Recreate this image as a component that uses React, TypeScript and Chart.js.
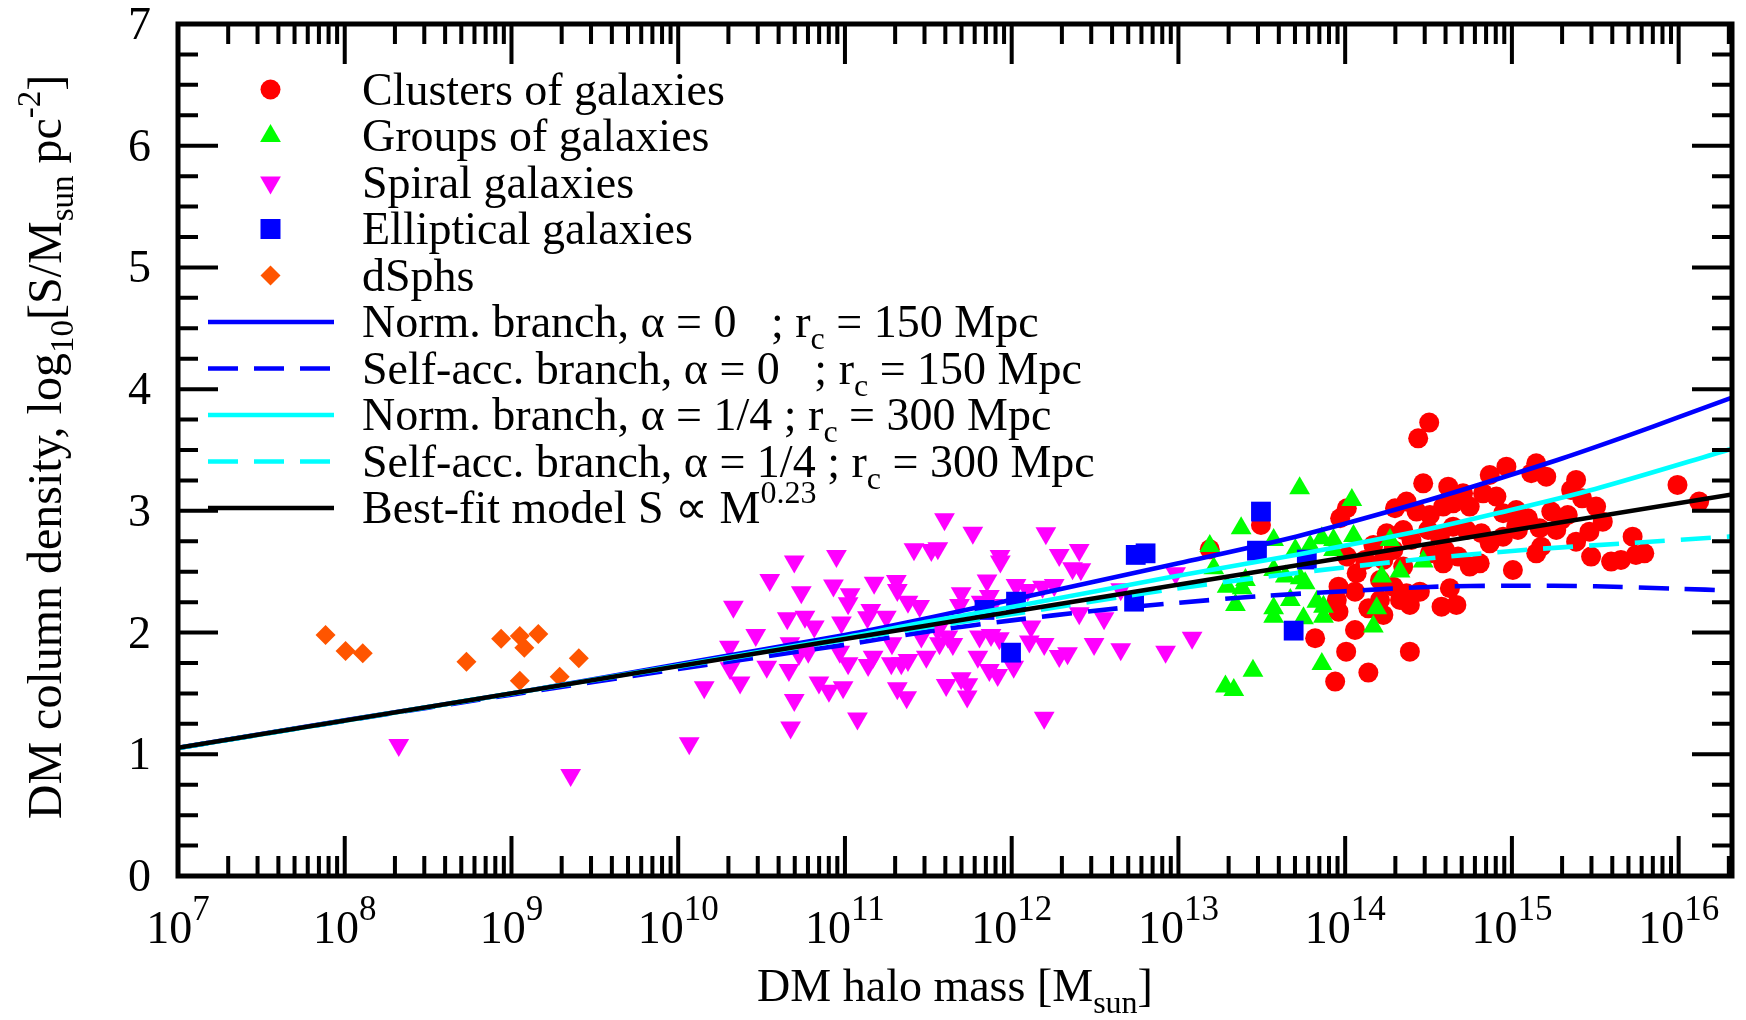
import React, { useEffect, useRef } from 'react';
import { Chart, registerables } from 'chart.js';

Chart.register(...registerables);

// ---------- axis ranges / ticks ----------
const X_MIN_EXP = 7;
const X_MAX_EXP = 16.32;
const Y_MIN = 0;
const Y_MAX = 7;
const xTickExponents = [7, 8, 9, 10, 11, 12, 13, 14, 15, 16];
const yTickLabels = ['0', '1', '2', '3', '4', '5', '6', '7'];

// ---------- data: [log10(M / Msun), log10(S / Msun pc^-2)] ----------
const clusters: [number, number][] = [
  [13.188, 2.684], [13.495, 2.884],
  [14.504, 3.725], [14.438, 3.596], [14.468, 3.226], [14.618, 3.199], [14.707, 3.144], [14.867, 3.295], [14.967, 3.363],
  [14.010, 3.021], [13.970, 2.939], [14.299, 3.021], [14.368, 3.076], [14.428, 2.994], [14.508, 2.966], [14.588, 3.035],
  [14.647, 3.062], [14.747, 3.035], [14.827, 3.144], [14.907, 3.117], [14.947, 2.980], [15.026, 3.007],
  [14.249, 2.816], [14.348, 2.843], [14.169, 2.720], [14.289, 2.679], [14.398, 2.761], [14.498, 2.843], [14.568, 2.788],
  [14.647, 2.870], [14.727, 2.843], [14.817, 2.816], [14.867, 2.733], [14.947, 2.788], [15.036, 2.843],
  [14.010, 2.624], [14.119, 2.597], [14.229, 2.597], [14.348, 2.542], [14.588, 2.569], [14.677, 2.624], [14.747, 2.542],
  [14.807, 2.569], [15.006, 2.514], [14.069, 2.487],
  [13.960, 2.377], [14.059, 2.336], [14.209, 2.432], [14.289, 2.377], [14.368, 2.323], [14.448, 2.336], [14.628, 2.364],
  [13.950, 2.268], [13.960, 2.172], [14.139, 2.199], [14.209, 2.268], [14.229, 2.145], [14.329, 2.268], [14.388, 2.227],
  [14.578, 2.213], [14.667, 2.227],
  [13.820, 1.953], [14.059, 2.021], [14.006, 1.843], [14.388, 1.843], [14.139, 1.671], [13.940, 1.597],
  [14.508, 2.651], [14.598, 2.679],
  [15.146, 3.391], [15.206, 3.281], [15.116, 3.309], [15.385, 3.254], [15.355, 3.172], [15.421, 3.103], [15.236, 2.994],
  [15.335, 2.966], [15.505, 3.035], [15.545, 2.911], [15.096, 2.939], [15.026, 2.871], [15.166, 2.857], [15.266, 2.843],
  [15.465, 2.829], [15.385, 2.747], [15.176, 2.706], [15.146, 2.651], [15.475, 2.624], [15.595, 2.583], [15.654, 2.597],
  [15.724, 2.788], [15.744, 2.638], [15.794, 2.651], [15.993, 3.213], [16.123, 3.076], [15.296, 2.925],
];

const groups: [number, number][] = [
  [13.727, 3.186], [14.040, 3.090], [13.376, 2.857], [13.188, 2.712], [13.571, 2.761], [13.212, 2.528], [13.701, 2.679],
  [13.790, 2.712], [13.860, 2.775], [13.930, 2.761], [14.050, 2.794], [13.930, 2.679], [13.292, 2.377], [13.382, 2.364],
  [13.571, 2.514], [13.641, 2.460], [13.760, 2.405], [13.671, 2.268], [13.342, 2.227], [13.571, 2.199], [13.571, 2.131],
  [13.750, 2.117], [13.830, 2.254], [13.870, 2.213], [13.870, 2.131], [14.219, 2.460], [14.329, 2.501], [14.189, 2.199],
  [14.169, 2.049], [13.447, 1.687], [13.282, 1.556], [13.332, 1.528], [13.860, 1.742], [13.402, 2.432], [13.730, 2.446],
  [14.269, 2.761], [14.468, 2.583],
];

const spirals: [number, number][] = [
  [8.324, 1.076], [9.355, 0.830],
  [10.696, 2.583], [10.949, 2.629], [10.549, 2.432], [10.738, 2.331], [10.931, 2.386], [11.031, 2.314], [11.019, 2.240],
  [11.175, 2.410], [11.308, 2.424], [11.314, 2.350], [11.414, 2.684], [11.518, 2.679], [10.331, 2.213], [10.654, 2.117],
  [10.760, 2.131], [10.816, 2.049], [10.979, 2.082], [11.155, 2.186], [11.135, 2.125], [11.248, 2.131], [11.378, 2.254],
  [11.448, 2.219], [10.465, 1.980], [10.307, 1.884], [10.670, 1.912], [10.724, 1.824], [10.780, 1.843], [10.969, 1.843],
  [11.019, 1.747], [11.169, 1.802], [11.139, 1.734], [11.278, 1.747], [11.338, 1.747], [11.378, 1.775], [11.488, 1.802],
  [11.458, 1.967], [10.311, 1.706], [10.531, 1.720], [10.664, 1.693], [10.156, 1.550], [10.371, 1.589], [10.844, 1.589],
  [10.904, 1.523], [10.989, 1.550], [11.314, 1.542], [11.370, 1.468], [10.696, 1.446], [11.075, 1.295], [10.674, 1.221],
  [10.066, 1.090], [11.282, 1.912],
  [11.597, 2.931], [11.767, 2.821], [12.205, 2.816], [12.405, 2.679], [12.285, 2.638], [11.930, 2.629], [11.932, 2.583],
  [11.557, 2.692], [12.365, 2.528], [12.415, 2.520], [11.852, 2.427], [12.026, 2.391], [12.096, 2.350], [12.185, 2.377],
  [12.255, 2.391], [11.697, 2.323], [11.866, 2.301], [11.687, 2.227], [11.817, 2.254], [11.886, 2.227], [12.983, 2.487],
  [12.654, 2.355], [12.405, 2.158], [12.554, 2.117], [12.116, 2.049], [11.557, 2.021], [11.617, 1.967], [11.807, 1.967],
  [11.876, 1.980], [11.926, 1.953], [12.195, 1.906], [12.106, 1.926], [12.494, 1.906], [12.654, 1.862], [12.335, 1.830],
  [12.285, 1.808], [12.923, 1.843], [13.082, 1.958], [11.567, 1.912], [11.647, 1.906], [11.797, 1.802], [11.866, 1.693],
  [11.916, 1.651], [12.012, 1.720], [11.697, 1.624], [11.737, 1.575], [11.607, 1.569], [11.733, 1.474], [12.195, 1.301],
];

const ellipticals: [number, number][] = [
  [12.744, 2.638], [12.803, 2.651], [12.026, 2.254], [11.837, 2.186], [11.996, 1.835], [12.734, 2.254],
  [13.495, 2.994], [13.471, 2.673], [13.691, 2.016], [13.770, 2.600],
];

const dsphs: [number, number][] = [
  [7.885, 1.980], [8.005, 1.849], [8.108, 1.830], [8.730, 1.761], [8.938, 1.950], [9.050, 1.972],
  [9.077, 1.876], [9.161, 1.988], [9.050, 1.604], [9.289, 1.637], [9.404, 1.788],
];

// model curves
const normBranchA0: [number, number][] = [
  [7, 1.052], [8, 1.28], [9, 1.50], [10, 1.74], [11, 1.98], [11.5, 2.12], [12, 2.27], [13.0, 2.57],
  [13.71, 2.79], [14.43, 3.06], [14.91, 3.26], [15.3, 3.43], [15.7, 3.62], [16.0, 3.77], [16.32, 3.93],
];
const selfAccA0: [number, number][] = [
  [7, 1.052], [8, 1.275], [9, 1.49], [10, 1.70], [11, 1.90], [11.5, 2.01], [12, 2.10], [12.5, 2.18], [13, 2.245],
  [13.5, 2.30], [14, 2.34], [14.5, 2.375], [15, 2.385], [15.5, 2.38], [16, 2.36], [16.32, 2.345],
];
const normBranchA14: [number, number][] = [
  [7, 1.052], [9, 1.50], [10, 1.73], [11, 1.96], [11.5, 2.09], [12, 2.21], [12.93, 2.45], [13.71, 2.64],
  [14.43, 2.83], [14.91, 2.98], [15.5, 3.18], [16.32, 3.51],
];
const selfAccA14: [number, number][] = [
  [7, 1.052], [9, 1.50], [10, 1.72], [11, 1.94], [12, 2.15], [12.93, 2.35], [13.71, 2.49], [14.43, 2.60],
  [15.09, 2.68], [15.7, 2.735], [16.32, 2.79],
];
const bestFit: [number, number][] = [
  [7, 1.054], [16.32, 3.135],
];

const legendLabels: { t: string; s?: 'sub' | 'sup' }[][] = [
  [{ t: 'Clusters of galaxies' }],
  [{ t: 'Groups of galaxies' }],
  [{ t: 'Spiral galaxies' }],
  [{ t: 'Elliptical galaxies' }],
  [{ t: 'dSphs' }],
  [{ t: 'Norm. branch, α = 0   ; r' }, { t: 'c', s: 'sub' }, { t: ' = 150 Mpc' }],
  [{ t: 'Self-acc. branch, α = 0   ; r' }, { t: 'c', s: 'sub' }, { t: ' = 150 Mpc' }],
  [{ t: 'Norm. branch, α = 1/4 ; r' }, { t: 'c', s: 'sub' }, { t: ' = 300 Mpc' }],
  [{ t: 'Self-acc. branch, α = 1/4 ; r' }, { t: 'c', s: 'sub' }, { t: ' = 300 Mpc' }],
  [{ t: 'Best-fit model S ∝ M' }, { t: '0.23', s: 'sup' }],
];

// ---------- styles ----------
const RED = '#ff0000';
const GREEN = '#00ff00';
const MAGENTA = '#ff00ff';
const BLUE = '#0000ff';
const ORANGE = '#ff5500';
const CYAN = '#00ffff';
const BLACK = '#000000';
const FONT = '"Liberation Serif", "Times New Roman", serif';
const DASH = [30, 16];
const LINE_W = 4.6;

const toXY = (arr: [number, number][]) => arr.map(([lm, v]) => ({ x: Math.pow(10, lm), y: v }));

type Part = { t: string; s?: 'sub' | 'sup' };
function drawParts(
  ctx: CanvasRenderingContext2D, parts: Part[], x: number, y: number, align: 'left' | 'center',
  base: number, small: number, subDy: number, supDy: number,
) {
  const fonts = parts.map((p) => `${p.s ? small : base}px ${FONT}`);
  const widths = parts.map((p, i) => { ctx.font = fonts[i]; return ctx.measureText(p.t).width; });
  const total = widths.reduce((a, b) => a + b, 0);
  let cx = align === 'center' ? x - total / 2 : x;
  ctx.textAlign = 'left';
  ctx.textBaseline = 'alphabetic';
  parts.forEach((p, i) => {
    ctx.font = fonts[i];
    const dy = p.s === 'sub' ? subDy : p.s === 'sup' ? -supDy : 0;
    ctx.fillText(p.t, cx, y + dy);
    cx += widths[i];
  });
}

const framePlugin = {
  id: 'gracelikeFrame',
  afterDatasetsDraw(chart: any) {
    const { ctx, chartArea: a, scales } = chart;
    const xs = scales.x;
    const ys = scales.y;
    ctx.save();
    ctx.strokeStyle = BLACK;
    ctx.fillStyle = BLACK;
    ctx.lineCap = 'butt';
    ctx.lineWidth = 4;
    const xmax = Math.pow(10, X_MAX_EXP);
    // x ticks (bottom + top)
    for (const e of xTickExponents) {
      for (let k = 1; k <= 9; k++) {
        const v = k * Math.pow(10, e);
        if (v > xmax) break;
        const px = xs.getPixelForValue(v);
        const len = k === 1 ? 40 : 20;
        ctx.beginPath();
        ctx.moveTo(px, a.bottom); ctx.lineTo(px, a.bottom - len);
        ctx.moveTo(px, a.top); ctx.lineTo(px, a.top + len);
        ctx.stroke();
      }
    }
    // y ticks (left + right)
    for (let i = 0; i <= (Y_MAX - Y_MIN) * 4; i++) {
      const v = Y_MIN + i * 0.25;
      const py = ys.getPixelForValue(v);
      const len = i % 4 === 0 ? 40 : 20;
      ctx.beginPath();
      ctx.moveTo(a.left, py); ctx.lineTo(a.left + len, py);
      ctx.moveTo(a.right, py); ctx.lineTo(a.right - len, py);
      ctx.stroke();
    }
    ctx.lineWidth = 5;
    ctx.strokeRect(a.left, a.top, a.right - a.left, a.bottom - a.top);

    // y tick labels
    ctx.font = `46px ${FONT}`;
    ctx.textAlign = 'right';
    ctx.textBaseline = 'alphabetic';
    yTickLabels.forEach((lab, i) => {
      const py = ys.getPixelForValue(Y_MIN + i);
      ctx.fillText(lab, 151, py + 15);
    });
    // x tick labels
    xTickExponents.forEach((e) => {
      const px = xs.getPixelForValue(Math.pow(10, e));
      drawParts(ctx, [{ t: '10' }, { t: String(e), s: 'sup' }], px, 943, 'center', 46, 35, 0, 23);
    });
    // axis titles
    drawParts(ctx, [{ t: 'DM halo mass [M' }, { t: 'sun', s: 'sub' }, { t: ']' }],
      (a.left + a.right) / 2, 1001, 'center', 46, 32, 12, 18);
    ctx.save();
    ctx.translate(61, 447);
    ctx.rotate(-Math.PI / 2);
    drawParts(ctx, [
      { t: 'DM column density, log' }, { t: '10', s: 'sub' }, { t: '[S/M' }, { t: 'sun', s: 'sub' },
      { t: ' pc' }, { t: '-2', s: 'sup' }, { t: ']' },
    ], 0, 0, 'center', 48, 33, 12, 21);
    ctx.restore();

    // legend
    const rowY = (i: number) => 89.5 + 46.5 * i;
    const mx = 270.5;
    const markers: ((y: number) => void)[] = [
      (y) => { ctx.fillStyle = RED; ctx.beginPath(); ctx.arc(mx, y, 10, 0, Math.PI * 2); ctx.fill(); },
      (y) => {
        const r = 12; ctx.fillStyle = GREEN; ctx.beginPath();
        ctx.moveTo(mx, y - r); ctx.lineTo(mx + r * 0.866, y + r / 2); ctx.lineTo(mx - r * 0.866, y + r / 2);
        ctx.closePath(); ctx.fill();
      },
      (y) => {
        const r = 12; ctx.fillStyle = MAGENTA; ctx.beginPath();
        ctx.moveTo(mx, y + r); ctx.lineTo(mx + r * 0.866, y - r / 2); ctx.lineTo(mx - r * 0.866, y - r / 2);
        ctx.closePath(); ctx.fill();
      },
      (y) => { ctx.fillStyle = BLUE; ctx.fillRect(mx - 10, y - 10, 20, 20); },
      (y) => {
        const r = 10; ctx.fillStyle = ORANGE; ctx.beginPath();
        ctx.moveTo(mx, y - r); ctx.lineTo(mx + r, y); ctx.lineTo(mx, y + r); ctx.lineTo(mx - r, y);
        ctx.closePath(); ctx.fill();
      },
    ];
    const lineStyles = [
      { c: BLUE, d: [] as number[] }, { c: BLUE, d: DASH }, { c: CYAN, d: [] as number[] },
      { c: CYAN, d: DASH }, { c: BLACK, d: [] as number[] },
    ];
    legendLabels.forEach((parts, i) => {
      const y = rowY(i);
      if (i < 5) {
        markers[i](y);
      } else {
        const st = lineStyles[i - 5];
        ctx.strokeStyle = st.c;
        ctx.lineWidth = LINE_W;
        ctx.setLineDash(st.d);
        ctx.beginPath(); ctx.moveTo(208, y); ctx.lineTo(334, y); ctx.stroke();
        ctx.setLineDash([]);
      }
      ctx.fillStyle = BLACK;
      drawParts(ctx, parts, 362, y + 15, 'left', 46, 32, 12, 20);
    });
    ctx.restore();
  },
};

export default function App() {
  const ref = useRef<HTMLCanvasElement | null>(null);
  useEffect(() => {
    if (!ref.current) return;
    const lineDs = (label: string, arr: [number, number][], color: string, dash: number[], order: number) => ({
      type: 'line' as const, label, data: toXY(arr), borderColor: color, borderWidth: LINE_W, borderDash: dash,
      pointRadius: 0, showLine: true, fill: false, tension: 0.3, order,
    });
    const chart = new Chart(ref.current, {
      type: 'scatter',
      data: {
        datasets: [
          lineDs('Best-fit', bestFit, BLACK, [], 1),
          lineDs('Self-acc 1/4', selfAccA14, CYAN, DASH, 2),
          lineDs('Norm 1/4', normBranchA14, CYAN, [], 3),
          lineDs('Self-acc 0', selfAccA0, BLUE, DASH, 4),
          lineDs('Norm 0', normBranchA0, BLUE, [], 5),
          { label: 'dSphs', data: toXY(dsphs), pointStyle: 'rectRot', pointRadius: 10, backgroundColor: ORANGE, borderWidth: 0, order: 6 },
          { label: 'Elliptical', data: toXY(ellipticals), pointStyle: 'rect', pointRadius: 14, backgroundColor: BLUE, borderWidth: 0, order: 7 },
          { label: 'Spiral', data: toXY(spirals), pointStyle: 'triangle', rotation: 180, pointRadius: 12, backgroundColor: MAGENTA, borderWidth: 0, order: 8 },
          { label: 'Groups', data: toXY(groups), pointStyle: 'triangle', pointRadius: 12, backgroundColor: GREEN, borderWidth: 0, order: 9 },
          { label: 'Clusters', data: toXY(clusters), pointStyle: 'circle', pointRadius: 10, backgroundColor: RED, borderWidth: 0, order: 10 },
        ] as any,
      },
      options: {
        responsive: false,
        animation: false,
        layout: { padding: { left: 178, right: 10, top: 24, bottom: 144 } },
        plugins: { legend: { display: false }, tooltip: { enabled: false } },
        scales: {
          x: { type: 'logarithmic', min: Math.pow(10, X_MIN_EXP), max: Math.pow(10, X_MAX_EXP), display: false },
          y: { type: 'linear', min: Y_MIN, max: Y_MAX, display: false },
        },
      },
      plugins: [framePlugin],
    });
    return () => chart.destroy();
  }, []);
  return (
    <div style={{ position: 'absolute', left: 0, top: 0, width: 1746, height: 1020, background: '#fff' }}>
      <canvas ref={ref} width={1746} height={1020} style={{ display: 'block', width: 1746, height: 1020 }} />
    </div>
  );
}
